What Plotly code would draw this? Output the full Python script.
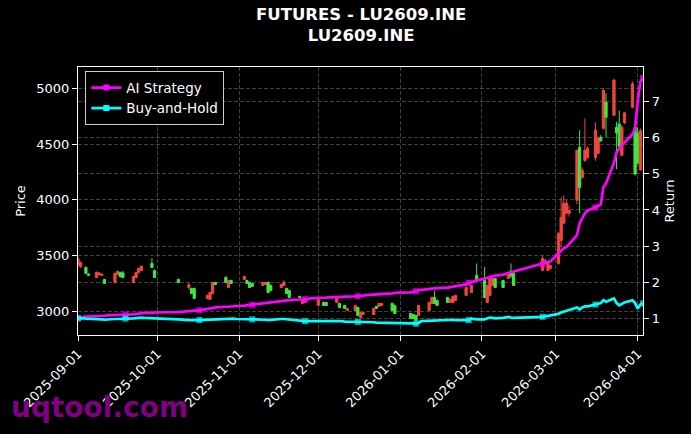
import pandas as pd
import plotly.graph_objects as go

# ---------------- data ----------------
holidays = ["2025-10-01", "2025-10-02", "2025-10-03", "2025-10-06", "2025-10-07", "2025-10-08",
            "2026-01-01", "2026-01-02",
            "2026-02-16", "2026-02-17", "2026-02-18", "2026-02-19", "2026-02-20", "2026-02-23"]

candle_dates = [
    "2025-09-01", "2025-09-02", "2025-09-04", "2025-09-05", "2025-09-08", "2025-09-09", "2025-09-10",
    "2025-09-11", "2025-09-15", "2025-09-16", "2025-09-17", "2025-09-18", "2025-09-22", "2025-09-23",
    "2025-09-24", "2025-09-25", "2025-09-29", "2025-09-30", "2025-10-09", "2025-10-13", "2025-10-14",
    "2025-10-15", "2025-10-20", "2025-10-21", "2025-10-22", "2025-10-23", "2025-10-27", "2025-10-28",
    "2025-10-29", "2025-11-03", "2025-11-04", "2025-11-05", "2025-11-06", "2025-11-10", "2025-11-11",
    "2025-11-12", "2025-11-13", "2025-11-17", "2025-11-18", "2025-11-19", "2025-11-20", "2025-11-24",
    "2025-11-25", "2025-11-26", "2025-12-01", "2025-12-03", "2025-12-04", "2025-12-08", "2025-12-09",
    "2025-12-11", "2025-12-12", "2025-12-15", "2025-12-16", "2025-12-17", "2025-12-18", "2025-12-22",
    "2025-12-23", "2025-12-24", "2025-12-25", "2025-12-29", "2025-12-30", "2026-01-05", "2026-01-06",
    "2026-01-07", "2026-01-08", "2026-01-12", "2026-01-13", "2026-01-14", "2026-01-15", "2026-01-19",
    "2026-01-20", "2026-01-21", "2026-01-22", "2026-01-26", "2026-01-28", "2026-01-30", "2026-02-02",
    "2026-02-03", "2026-02-04", "2026-02-05", "2026-02-06", "2026-02-09", "2026-02-11", "2026-02-12",
    "2026-02-13", "2026-02-24", "2026-02-25", "2026-02-26", "2026-02-27", "2026-03-02", "2026-03-03",
    "2026-03-04", "2026-03-05", "2026-03-06", "2026-03-09", "2026-03-10", "2026-03-11", "2026-03-12",
    "2026-03-13", "2026-03-16", "2026-03-17", "2026-03-18", "2026-03-19", "2026-03-20", "2026-03-23",
    "2026-03-24", "2026-03-25", "2026-03-26", "2026-03-27", "2026-03-30", "2026-03-31", "2026-04-01",
    "2026-04-02"]

c_open = [3420, 3400, 3395, 3335, 3305, 3330, 3322, 3287, 3260, 3332, 3350, 3345, 3260, 3305,
          3350, 3368, 3430, 3368, 3287, 3215, 3206, 3206, 3117, 3108, 3161, 3260, 3305, 3215,
          3278, 3287, 3278, 3260, 3250, 3233, 3242, 3260, 3233, 3215, 3233, 3206, 3188, 3135,
          3072, 3081, 3054, 3081, 3081, 3081, 3072, 3054, 3009, 3009, 3036, 2946, 2975, 2973,
          3045, 3045, 3054, 3072, 3054, 2982, 2973, 2964, 2964, 3009, 3072, 3126, 3099, 3126,
          3081, 3081, 3099, 3144, 3170, 3323, 3278, 3081, 3144, 3233, 3296, 3278, 3296, 3360,
          3341, 3368, 3445, 3368, 3386, 3430, 3637, 3790, 3880, 3880, 3996, 4471, 4202, 4354,
          4380, 4380, 4417, 4560, 4641, 4875, 4758, 4650, 4680, 4400, 4690, 4830, 4650, 4600,
          4270]
c_high = [3485, 3448, 3402, 3342, 3358, 3352, 3340, 3292, 3348, 3366, 3356, 3362, 3320, 3356,
          3392, 3412, 3478, 3374, 3292, 3255, 3212, 3214, 3150, 3176, 3266, 3266, 3316, 3284,
          3284, 3320, 3284, 3266, 3256, 3266, 3266, 3268, 3240, 3248, 3280, 3212, 3195, 3140,
          3114, 3105, 3114, 3088, 3086, 3122, 3078, 3060, 3032, 3060, 3042, 2996, 2995, 3032,
          3050, 3078, 3076, 3078, 3060, 2988, 2978, 2970, 3060, 3086, 3132, 3188, 3105, 3132,
          3114, 3140, 3150, 3220, 3240, 3430, 3400, 3240, 3302, 3302, 3302, 3284, 3346, 3430,
          3350, 3500, 3470, 3436, 3416, 3710, 4023, 4040, 4000, 3950, 4450, 4624, 4290, 4730,
          4480, 4695, 4570, 4580, 5000, 4955, 5085, 4700, 4800, 4670, 4790, 5060, 4710, 4650,
          4640]
c_low = [3410, 3392, 3335, 3318, 3298, 3324, 3318, 3246, 3254, 3326, 3305, 3298, 3252, 3300,
         3344, 3362, 3390, 3300, 3256, 3195, 3156, 3112, 3110, 3102, 3154, 3236, 3254, 3208,
         3246, 3282, 3246, 3210, 3220, 3228, 3236, 3165, 3182, 3208, 3226, 3156, 3120, 3120,
         3066, 3075, 3048, 3048, 3050, 3076, 3030, 3022, 3004, 3004, 2958, 2940, 2970, 2968,
         3022, 3040, 3050, 3004, 2976, 2932, 2932, 2910, 2958, 3004, 3066, 3066, 3048, 3076,
         3076, 3076, 3094, 3138, 3164, 3272, 3120, 3075, 3138, 3228, 3210, 3210, 3290, 3300,
         3228, 3360, 3425, 3362, 3380, 3420, 3574, 3780, 3870, 3850, 3960, 3879, 4190, 4340,
         4370, 4350, 4410, 4520, 4630, 4560, 4750, 4275, 4470, 4390, 4680, 4820, 4220, 4320,
         4260]
c_close = [3470, 3440, 3341, 3325, 3350, 3345, 3334, 3251, 3341, 3359, 3312, 3305, 3314, 3350,
           3386, 3404, 3395, 3305, 3260, 3238, 3161, 3117, 3144, 3170, 3260, 3242, 3260, 3278,
           3251, 3314, 3251, 3215, 3225, 3260, 3260, 3170, 3188, 3242, 3260, 3161, 3126, 3126,
           3108, 3099, 3108, 3054, 3054, 3117, 3036, 3027, 3027, 3054, 2964, 2991, 2990, 3027,
           3027, 3072, 3072, 3009, 2982, 2937, 2937, 2919, 3054, 3081, 3126, 3072, 3054, 3081,
           3108, 3135, 3144, 3215, 3233, 3278, 3126, 3233, 3296, 3296, 3215, 3215, 3341, 3320,
           3233, 3475, 3430, 3430, 3410, 3700, 3843, 3969, 3969, 3905, 4444, 4112, 4265, 4444,
           4462, 4624, 4550, 4530, 4982, 4740, 5072, 4600, 4480, 4650, 4780, 5040, 4230, 4330,
           4620]

ai_strategy = [
    1.00, 1.03, 1.04, 1.05, 1.05,
    1.06, 1.06, 1.07, 1.07, 1.08,
    1.08, 1.09, 1.09, 1.10, 1.10,
    1.11, 1.12, 1.13, 1.14, 1.15,
    1.15, 1.16,
    1.17, 1.18,
    1.19, 1.20, 1.21, 1.21, 1.22,
    1.24, 1.26, 1.28, 1.30, 1.31,
    1.32, 1.32, 1.33, 1.33, 1.34,
    1.35, 1.36, 1.36, 1.37, 1.38,
    1.40, 1.42, 1.44, 1.45, 1.46,
    1.47, 1.49, 1.50, 1.50, 1.51,
    1.52, 1.52, 1.53, 1.54, 1.55,
    1.55, 1.56, 1.56, 1.57, 1.58,
    1.58, 1.59, 1.59, 1.60, 1.60,
    1.61, 1.61, 1.62, 1.63, 1.64,
    1.65, 1.66, 1.67, 1.68, 1.68,
    1.69, 1.70, 1.71,
    1.72, 1.73, 1.75, 1.78, 1.79,
    1.80, 1.81, 1.82, 1.83, 1.84,
    1.85, 1.86, 1.87, 1.88, 1.90,
    1.94, 1.98, 2.01, 2.03, 2.05,
    2.10, 2.12, 2.14, 2.16, 2.18,
    2.21, 2.23, 2.25, 2.27, 2.29,
    2.50, 2.52, 2.55, 2.58,
    2.80, 2.88, 2.94, 2.97, 3.05,
    3.30, 3.63, 3.78, 3.91, 3.98,
    4.07, 4.10, 4.15, 4.63, 4.74,
    5.30, 5.60, 5.70, 5.79, 5.87,
    6.10, 6.25, 7.00, 7.55, 7.65]

buy_hold = [
    1.00, 1.01, 1.00, 0.99, 0.99,
    0.98, 0.98, 0.97, 0.96, 0.97,
    0.98, 0.98, 0.99, 0.99, 0.99,
    1.00, 1.01, 1.02, 1.02, 1.01,
    1.01, 1.00,
    0.97, 0.96,
    0.95, 0.95, 0.94, 0.95, 0.95,
    0.96, 0.96, 0.97, 0.97, 0.98,
    0.98, 0.99, 0.99, 0.99, 0.98,
    0.98, 0.97, 0.97, 0.97, 0.96,
    0.96, 0.96, 0.95, 0.96, 0.97,
    0.98, 0.98, 0.97, 0.96, 0.95,
    0.93, 0.92, 0.92, 0.92, 0.92,
    0.93, 0.93, 0.94, 0.94, 0.93,
    0.93, 0.92, 0.92, 0.91, 0.91,
    0.91, 0.90, 0.90, 0.89, 0.89,
    0.89, 0.88, 0.88, 0.88, 0.88,
    0.88, 0.87, 0.87,
    0.86, 0.86, 0.85, 0.87, 0.92,
    0.93, 0.94, 0.94, 0.95, 0.95,
    0.95, 0.96, 0.96, 0.95, 0.95,
    0.94, 0.95, 0.99, 0.98, 0.97,
    0.97, 1.00, 1.02, 1.01, 1.00,
    1.01, 1.02, 1.04, 1.02, 1.01,
    1.04, 1.05, 1.06, 1.07,
    1.12, 1.16, 1.18, 1.21, 1.24,
    1.30, 1.24, 1.30, 1.33, 1.33,
    1.38, 1.40, 1.42, 1.50, 1.46,
    1.55, 1.42, 1.36, 1.40, 1.44,
    1.50, 1.42, 1.27, 1.38, 1.41]

title_lines = ["FUTURES - LU2609.INE", "LU2609.INE"]
x_ticks = ["2025-09-01", "2025-10-01", "2025-11-01", "2025-12-01",
           "2026-01-01", "2026-02-01", "2026-03-01", "2026-04-01"]
price_ticks = [3000, 3500, 4000, 4500, 5000]
return_ticks = [1, 2, 3, 4, 5, 6, 7]

MARK_EVERY = 14

# ---------------- build ----------------
trade_days = [d for d in pd.bdate_range("2025-09-01", "2026-04-03")
              if d.strftime("%Y-%m-%d") not in holidays]
marker_sizes = [6 if i % MARK_EVERY == 0 else 0 for i in range(len(trade_days))]

FONT = "DejaVu Sans"
RED = "#f0473d"
GREEN = "#3fe83f"
MAGENTA = "#ff00ff"
CYAN = "#00ffff"
GRID = "rgba(128,128,128,0.5)"
TICK_FS = 13

fig = go.Figure()

fig.add_trace(go.Candlestick(
    x=candle_dates, open=c_open, high=c_high, low=c_low, close=c_close,
    increasing=dict(line=dict(color=RED, width=1), fillcolor=RED),
    decreasing=dict(line=dict(color=GREEN, width=1), fillcolor=GREEN),
    showlegend=False, yaxis="y", name="Price"))

for name, vals, col in [("AI Strategy", ai_strategy, MAGENTA), ("Buy-and-Hold", buy_hold, CYAN)]:
    fig.add_trace(go.Scatter(
        x=trade_days, y=vals, mode="lines+markers", yaxis="y2", name=name,
        line=dict(color=col, width=2.7),
        marker=dict(symbol="square", size=marker_sizes, color=col, line=dict(width=0)),
        showlegend=False))
for name, col in [("AI Strategy", MAGENTA), ("Buy-and-Hold", CYAN)]:
    fig.add_trace(go.Scatter(
        x=[None], y=[None], mode="lines+markers", yaxis="y2", name=name,
        line=dict(color=col, width=2.7),
        marker=dict(symbol="square", size=6, color=col), showlegend=True))

axis_common = dict(
    showline=True, linecolor="white", linewidth=1.2,
    ticks="outside", ticklen=5, tickcolor="white", tickwidth=1,
    tickfont=dict(family=FONT, size=TICK_FS, color="white"),
    zeroline=False,
)

PLOT_TOP, PLOT_H = 67, 268


def paper_y(px):
    return 1 + (PLOT_TOP - px) / PLOT_H


fig.update_layout(
    width=691, height=434,
    paper_bgcolor="black", plot_bgcolor="black",
    margin=dict(l=78, r=48, t=67, b=99),
    font=dict(family=FONT, color="white"),
    boxgap=0.15, boxgroupgap=0,
    xaxis=dict(**axis_common, mirror=True, type="date",
               range=["2025-09-01", "2026-04-03"],
               tickvals=x_ticks, ticktext=x_ticks, tickangle=-45,
               showgrid=True, gridcolor=GRID, gridwidth=0.8, griddash="4px,2px",
               rangeslider=dict(visible=False)),
    yaxis=dict(**axis_common, range=[2789, 5191], tickvals=price_ticks,
               showgrid=True, gridcolor=GRID, gridwidth=0.8, griddash="4px,2px",
               title=dict(text="Price", font=dict(family=FONT, size=TICK_FS, color="white"),
                          standoff=7)),
    yaxis2=dict(**axis_common, overlaying="y", side="right", range=[0.537, 7.96],
                tickvals=return_ticks,
                showgrid=True, gridcolor=GRID, gridwidth=0.8, griddash="4px,2px",
                title=dict(text="Return", font=dict(family=FONT, size=TICK_FS, color="white"),
                           standoff=5)),
    legend=dict(x=0.013, y=0.984, xanchor="left", yanchor="top",
                bgcolor="black", bordercolor="#cccccc", borderwidth=1,
                font=dict(family=FONT, size=13.5, color="white"),
                itemwidth=30, tracegroupgap=0),
    annotations=[
        dict(text="<b>%s</b>" % "<br>".join(title_lines), xref="paper", yref="paper",
             x=0.5, y=paper_y(25), xanchor="center", yanchor="middle", showarrow=False,
             borderpad=0, font=dict(family=FONT, size=16.5, color="white")),
        dict(text="<b>uqtool.com</b>", xref="paper", yref="paper",
             x=-0.122, y=-0.272, xanchor="left", yanchor="middle",
             showarrow=False,
             font=dict(family=FONT, size=28, color="#800080"))],
)

fig.write_html("out.html")
